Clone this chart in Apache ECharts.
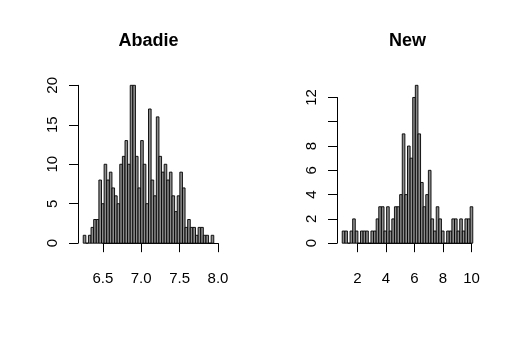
<!DOCTYPE html>
<html>
<head>
<meta charset="utf-8">
<script src="https://cdn.jsdelivr.net/npm/echarts@6/dist/echarts.min.js"></script>
<style>
html, body { margin: 0; padding: 0; background: #fff; }
#main { width: 518px; height: 348px; }
</style>
</head>
<body>
<div id="main"></div>
<script>
var chartDom = document.getElementById('main');
var myChart = echarts.init(chartDom);
var option;

// histogram breaks (first edge + bin width) and counts
var abadieStart = 6.245;
var abadieWidth = 0.034;
var abadieCounts = [1, 0, 1, 2, 3, 3, 8, 5, 10, 8,
                    9, 7, 6, 5, 10, 11, 13, 10, 20, 20,
                    11, 7, 13, 10, 5, 17, 8, 6, 16, 11,
                    9, 10, 8, 9, 6, 4, 6, 9, 7, 2,
                    3, 2, 2, 1, 2, 2, 1, 1, 0, 1];
var abadieXTicks = [6.5, 7.0, 7.5, 8.0];
var abadieYTicks = [0, 5, 10, 15, 20];

var newStart = 0.94;
var newWidth = 0.183;
var newCounts = [1, 1, 0, 1, 2, 1, 0, 1, 1, 1,
                 0, 1, 1, 2, 3, 3, 1, 3, 1, 2,
                 3, 3, 4, 9, 4, 8, 7, 12, 13, 9,
                 5, 3, 4, 6, 2, 1, 3, 2, 1, 0,
                 1, 1, 2, 2, 1, 2, 1, 2, 2, 3];
var newXTicks = [2, 4, 6, 8, 10];
var newYTicks = [0, 2, 4, 6, 8, 10, 12];
// R drops the "10" label on the right panel (overlap)
var newYHidden = [10];

var font = 'Liberation Sans';
var plotTop = 79, plotW = 141, plotH = 170.5;

var grids = [], xAxes = [], yAxes = [], series = [], graphics = [];

function addPanel(title, start, width, counts, xt, yt, hidden, left, digits) {
    var bins = counts.map(function (c, i) {
        return [start + i * width, start + (i + 1) * width, c];
    });
    var xlo = start, xhi = start + counts.length * width;
    var xmin = xlo - 0.04 * (xhi - xlo), xmax = xhi + 0.04 * (xhi - xlo);
    var ytop = Math.max.apply(null, counts);
    var ymin = -0.04 * ytop, ymax = ytop * 1.04;
    var px = function (v) { return left + (v - xmin) / (xmax - xmin) * plotW; };
    var py = function (v) { return plotTop + (ymax - v) / (ymax - ymin) * plotH; };

    // plot region holding the bars (R usr coords)
    var g = grids.length;
    grids.push({ left: left, top: plotTop, width: plotW, height: plotH });
    xAxes.push({ gridIndex: g, type: 'value', min: xmin, max: xmax, show: false });
    yAxes.push({ gridIndex: g, type: 'value', min: ymin, max: ymax, show: false });
    series.push({
        type: 'custom',
        xAxisIndex: g, yAxisIndex: g,
        data: bins,
        encode: { x: [0, 1], y: 2 },
        silent: true,
        renderItem: function (params, api) {
            var p0 = api.coord([api.value(0), api.value(2)]);
            var p1 = api.coord([api.value(1), 0]);
            return {
                type: 'rect',
                shape: { x: p0[0], y: p0[1], width: p1[0] - p0[0], height: p1[1] - p0[1] },
                style: { fill: '#8c8c8c', stroke: '#000', lineWidth: 0.9 }
            };
        }
    });

    // axes only span the tick range, like R
    var a = grids.length;
    var x0 = px(xt[0]), x1 = px(xt[xt.length - 1]);
    var y0 = py(yt[0]), y1 = py(yt[yt.length - 1]);
    grids.push({ left: x0, top: y1, width: x1 - x0, height: y0 - y1 });
    var axisLine = { show: true, lineStyle: { color: '#000', width: 1 } };
    var axisTick = { show: true, length: 9, lineStyle: { color: '#000', width: 1 } };
    xAxes.push({
        gridIndex: a, type: 'value',
        min: xt[0], max: xt[xt.length - 1], interval: xt[1] - xt[0],
        offset: plotTop + plotH - y0,
        axisLine: axisLine, axisTick: axisTick, splitLine: { show: false },
        axisLabel: {
            margin: 22, fontSize: 15, fontFamily: font, color: '#000',
            formatter: function (v) { return v.toFixed(digits); }
        }
    });
    yAxes.push({
        gridIndex: a, type: 'value',
        min: yt[0], max: yt[yt.length - 1], interval: yt[1] - yt[0],
        offset: x0 - left,
        axisLine: axisLine, axisTick: axisTick, splitLine: { show: false },
        axisLabel: {
            margin: 18, rotate: 90, fontSize: 15, fontFamily: font, color: '#000',
            formatter: function (v) { return hidden.indexOf(v) >= 0 ? '' : String(v); }
        }
    });

    graphics.push({
        type: 'text', x: left + plotW / 2, y: 41,
        style: {
            text: title, textAlign: 'center', textVerticalAlign: 'middle',
            font: 'bold 18px "' + font + '"', fill: '#000'
        }
    });
}

addPanel('Abadie', abadieStart, abadieWidth, abadieCounts, abadieXTicks, abadieYTicks, [], 78, 1);
addPanel('New', newStart, newWidth, newCounts, newXTicks, newYTicks, newYHidden, 337, 0);

option = {
    backgroundColor: '#fff',
    animation: false,
    grid: grids,
    xAxis: xAxes,
    yAxis: yAxes,
    graphic: graphics,
    series: series
};

option && myChart.setOption(option);
</script>
</body>
</html>
